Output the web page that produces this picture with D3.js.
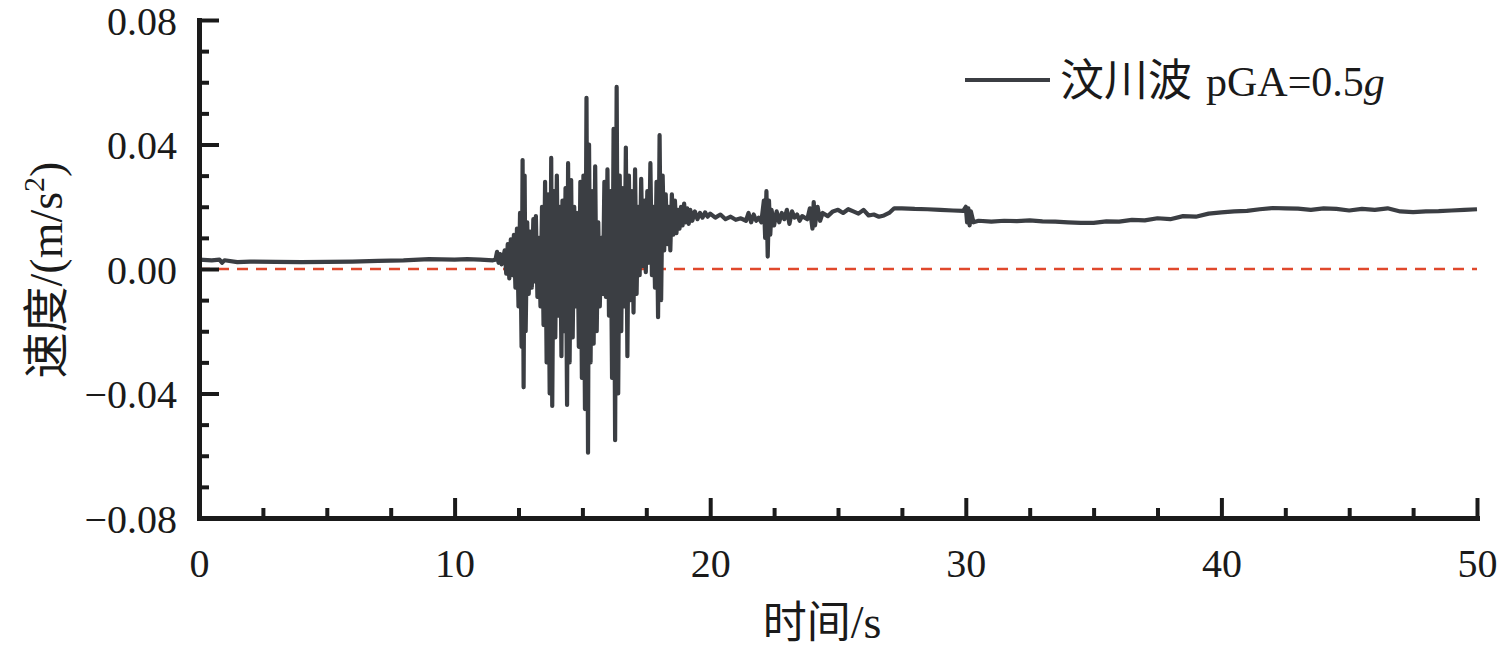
<!DOCTYPE html>
<html><head><meta charset="utf-8">
<script src="https://cdn.jsdelivr.net/npm/d3@7/dist/d3.min.js"></script>
<style>
html,body{margin:0;padding:0;background:#fff;}
svg{display:block;}
</style></head>
<body><svg id="c" width="1505" height="654"></svg>
<script>
// ---- data (time s, velocity) ----
const quietStart = [
 [0,0.0030],[0.5,0.0028],[0.8,0.0030],[0.9,0.0020],[1.0,0.0028],[1.5,0.0022],[2,0.0024],[3,0.0023],
 [4,0.0022],[5,0.0023],[6,0.0024],[7,0.0026],[8,0.0028],[9,0.0032],[10,0.0030],[10.5,0.0032],[11,0.0030],[11.5,0.0028]
];
const strongMotion = [
 [11.60,0.0030],[11.66,0.0055],[11.72,0.0020],[11.78,0.0048],[11.84,0.0015],[11.90,0.0035],[11.96,0.0060],
 [12.02,-0.0015],[12.08,0.0080],[12.14,-0.0030],[12.20,0.0095],[12.26,-0.0020],[12.32,0.0110],[12.38,-0.0060],
 [12.44,0.0130],[12.50,-0.0120],[12.56,0.0180],[12.62,-0.0250],[12.66,0.0350],[12.70,-0.0380],[12.74,0.0300],
 [12.78,-0.0200],[12.84,0.0150],[12.90,-0.0080],[12.96,0.0120],[13.02,-0.0060],[13.08,0.0160],[13.14,-0.0040],
 [13.18,0.0170],[13.24,-0.0090],[13.30,0.0100],[13.36,-0.0120],[13.42,0.0200],[13.48,-0.0180],[13.54,0.0280],
 [13.60,-0.0300],[13.66,0.0240],[13.72,-0.0400],[13.78,0.0357],[13.82,-0.0440],[13.88,0.0250],[13.94,-0.0220],
 [14.00,0.0300],[14.06,-0.0150],[14.12,0.0200],[14.18,-0.0280],[14.22,0.0220],[14.28,-0.0200],[14.34,0.0260],
 [14.40,-0.0437],[14.44,0.0340],[14.50,-0.0300],[14.56,0.0286],[14.62,-0.0220],[14.68,0.0200],[14.74,-0.0120],
 [14.80,0.0180],[14.86,-0.0250],[14.92,0.0280],[14.98,-0.0350],[15.04,0.0300],[15.10,-0.0450],[15.16,0.0550],
 [15.22,-0.0590],[15.26,0.0400],[15.32,-0.0300],[15.38,0.0250],[15.44,-0.0240],[15.50,0.0330],[15.56,-0.0200],
 [15.62,0.0150],[15.68,-0.0120],[15.74,0.0100],[15.80,-0.0080],[15.86,0.0280],[15.92,-0.0090],[15.98,0.0320],
 [16.04,-0.0150],[16.10,0.0250],[16.16,-0.0350],[16.22,0.0450],[16.28,-0.0550],[16.34,0.0585],[16.40,-0.0400],
 [16.46,0.0300],[16.52,-0.0200],[16.58,0.0260],[16.64,-0.0120],[16.70,0.0390],[16.76,-0.0280],[16.82,0.0300],
 [16.88,-0.0100],[16.94,0.0250],[17.00,-0.0140],[17.06,0.0320],[17.12,-0.0080],[17.18,0.0200],[17.24,-0.0020],
 [17.30,0.0290],[17.36,0.0010],[17.42,0.0220],[17.48,-0.0010],[17.54,0.0250],[17.60,0.0020],[17.66,0.0340],
 [17.72,-0.0020],[17.78,0.0200],[17.84,-0.0060],[17.90,0.0280],[17.96,-0.0155],[18.02,0.0430],[18.08,-0.0100],
 [18.14,0.0300],[18.20,0.0060],[18.26,0.0240],[18.32,0.0080],[18.38,0.0200],[18.44,0.0060],[18.50,0.0240],
 [18.56,0.0110],[18.62,0.0220],[18.68,0.0115],[18.74,0.0190],[18.80,0.0130],[18.86,0.0200],[18.92,0.0140],
 [18.98,0.0210],[19.04,0.0150],[19.10,0.0195],[19.16,0.0145],[19.22,0.0190],[19.30,0.0155],[19.40,0.0185],
 [19.50,0.0160],[19.60,0.0180],[19.70,0.0165],[19.80,0.0182],[19.90,0.0168]
];
const coda = [
 [20.0,0.0178],[20.2,0.0165],[20.4,0.0175],[20.6,0.0160],[20.8,0.0168],[21.0,0.0158],[21.2,0.0163],[21.4,0.0155],
 [21.5,0.0180],[21.6,0.0150],[21.7,0.0175],[21.8,0.0155],[21.9,0.0165],[22.0,0.0150],[22.1,0.0220],[22.15,0.0100],
 [22.2,0.0250],[22.25,0.0040],[22.3,0.0220],[22.35,0.0110],[22.4,0.0190],[22.5,0.0140],[22.6,0.0185],[22.7,0.0150],
 [22.8,0.0180],[22.9,0.0160],[23.0,0.0190],[23.1,0.0145],[23.2,0.0185],[23.3,0.0165],[23.4,0.0175],[23.5,0.0155],
 [23.6,0.0170],[23.8,0.0160],[23.9,0.0195],[24.0,0.0130],[24.05,0.0215],[24.1,0.0140],[24.2,0.0200],[24.3,0.0155],
 [24.4,0.0180],[24.6,0.0170],[24.8,0.0185],[25.0,0.0190],[25.2,0.0180],[25.4,0.0192],[25.6,0.0185],[25.8,0.0178],
 [26.0,0.0190],[26.2,0.0172],[26.4,0.0175],[26.6,0.0168],[26.8,0.0172],[27.0,0.0180],[27.2,0.0195],[27.5,0.0195],
 [28.0,0.0193],[28.5,0.0192],[29.0,0.0190],[29.5,0.0188],[29.9,0.0187],[30.0,0.0200],[30.05,0.0150],[30.1,0.0195],
 [30.15,0.0140],[30.2,0.0185],[30.3,0.0150],[30.5,0.0155],[31.0,0.0152],[31.5,0.0155],[32.0,0.0154],[32.5,0.0156],
 [33.0,0.0153],[33.5,0.0152],[34.0,0.0150],[34.5,0.0148],[35.0,0.0148],[35.5,0.0153],[36.0,0.0152],[36.5,0.0158],
 [37.0,0.0156],[37.5,0.0163],[38.0,0.0160],[38.5,0.0170],[39.0,0.0168],[39.5,0.0178],[40.0,0.0182],[40.5,0.0185],
 [41.0,0.0187],[41.5,0.0192],[42.0,0.0196],[42.5,0.0195],[43.0,0.0194],[43.5,0.0190],[44.0,0.0195],[44.5,0.0193],
 [45.0,0.0188],[45.5,0.0193],[46.0,0.0190],[46.5,0.0195],[47.0,0.0185],[47.5,0.0183],[48.0,0.0185],[48.5,0.0186],
 [49.0,0.0188],[49.5,0.0190],[50.0,0.0192]
];
const xMajorTicks = [0,10,20,30,40,50];
const xMinorTicks = [2.5,5,7.5,12.5,15,17.5,22.5,25,27.5,32.5,35,37.5,42.5,45,47.5];
const yMajorTicks = [0.08,0.04,0,-0.04,-0.08];
const yMinorTicks = [0.07,0.06,0.05,0.03,0.02,0.01,-0.01,-0.02,-0.03,-0.05,-0.06,-0.07];
const legendName = "汶川波";
const legendPga = "pGA=0.5";

// ---- drawing ----
const svg = d3.select("#c");
const L = 199, R = 1477, T = 20, B = 518;
const x = d3.scaleLinear().domain([0,50]).range([L,R]);
const y = d3.scaleLinear().domain([-0.08,0.08]).range([B,T]);
const serif = "'Liberation Serif','Times New Roman',serif";
const cjk = "'Noto Sans CJK SC','Noto Sans CJK JP',sans-serif";
const ink = "#1a1a1a";

// zero dashed line
svg.append("line").attr("x1",x(0)).attr("x2",x(50)).attr("y1",y(0)).attr("y2",y(0))
  .attr("stroke","#e0482c").attr("stroke-width",2.5).attr("stroke-dasharray","11,8");

// signal
const allData = quietStart.concat(strongMotion, coda);
svg.append("path").datum(allData)
  .attr("d", d3.line().x(d=>x(d[0])).y(d=>y(d[1])))
  .attr("fill","none").attr("stroke","#3b3e43").attr("stroke-width",4.2).attr("stroke-linejoin","round");

// axes
function styleAxis(g){
  g.selectAll("path.domain").attr("stroke",ink).attr("stroke-width",5).attr("stroke-linecap","square");
  g.selectAll(".tick line").attr("stroke",ink).attr("stroke-width",4);
  g.selectAll("text").attr("fill",ink).style("font-family",serif).style("font-size","40px");
}
const fmt = d => d===0 ? "0.00" : d3.format(".2f")(d);
svg.append("g").attr("transform",`translate(${L},0)`)
  .call(d3.axisLeft(y).tickValues(yMinorTicks).tickSize(-10).tickFormat(""))
  .call(styleAxis).select("path.domain").remove();
svg.append("g").attr("transform",`translate(${L},0)`)
  .call(d3.axisLeft(y).tickValues(yMajorTicks).tickSizeInner(-20).tickSizeOuter(0).tickPadding(22).tickFormat(fmt))
  .call(styleAxis)
  .selectAll("text").attr("dy","0.36em");
svg.append("g").attr("transform",`translate(0,${B})`)
  .call(d3.axisBottom(x).tickValues(xMinorTicks).tickSize(-10).tickFormat(""))
  .call(styleAxis).select("path.domain").remove();
svg.append("g").attr("transform",`translate(0,${B})`)
  .call(d3.axisBottom(x).tickValues(xMajorTicks).tickSizeInner(-20).tickSizeOuter(0).tickPadding(31).tickFormat(d3.format("d")))
  .call(styleAxis);

// x title
const xt = svg.append("text").attr("x",822).attr("y",638).attr("text-anchor","middle")
  .attr("fill",ink).style("font-size","44px");
xt.append("tspan").style("font-family",cjk).text("时间");
xt.append("tspan").style("font-family",serif).style("font-size","46px").text("/s");

// y title
const yt = svg.append("text").attr("transform","translate(62,270) rotate(-90)").attr("text-anchor","middle")
  .attr("fill",ink).style("font-size","46px");
yt.append("tspan").style("font-family",cjk).text("速度");
yt.append("tspan").style("font-family",serif).text("/(m/s");
yt.append("tspan").style("font-family",serif).style("font-size","30px").attr("dy","-18").text("2");
yt.append("tspan").style("font-family",serif).attr("dy","18").text(")");

// legend
svg.append("line").attr("x1",965).attr("x2",1050).attr("y1",80).attr("y2",80)
  .attr("stroke","#3b3e43").attr("stroke-width",4);
const lt = svg.append("text").attr("x",1060).attr("y",96).attr("fill",ink).style("font-size","44px");
lt.append("tspan").style("font-family",cjk).text(legendName);
lt.append("tspan").style("font-family",serif).style("font-size","42px").attr("dx","14").text(legendPga);
lt.append("tspan").style("font-family",serif).style("font-size","42px").style("font-style","italic").text("g");
</script>
</body></html>
